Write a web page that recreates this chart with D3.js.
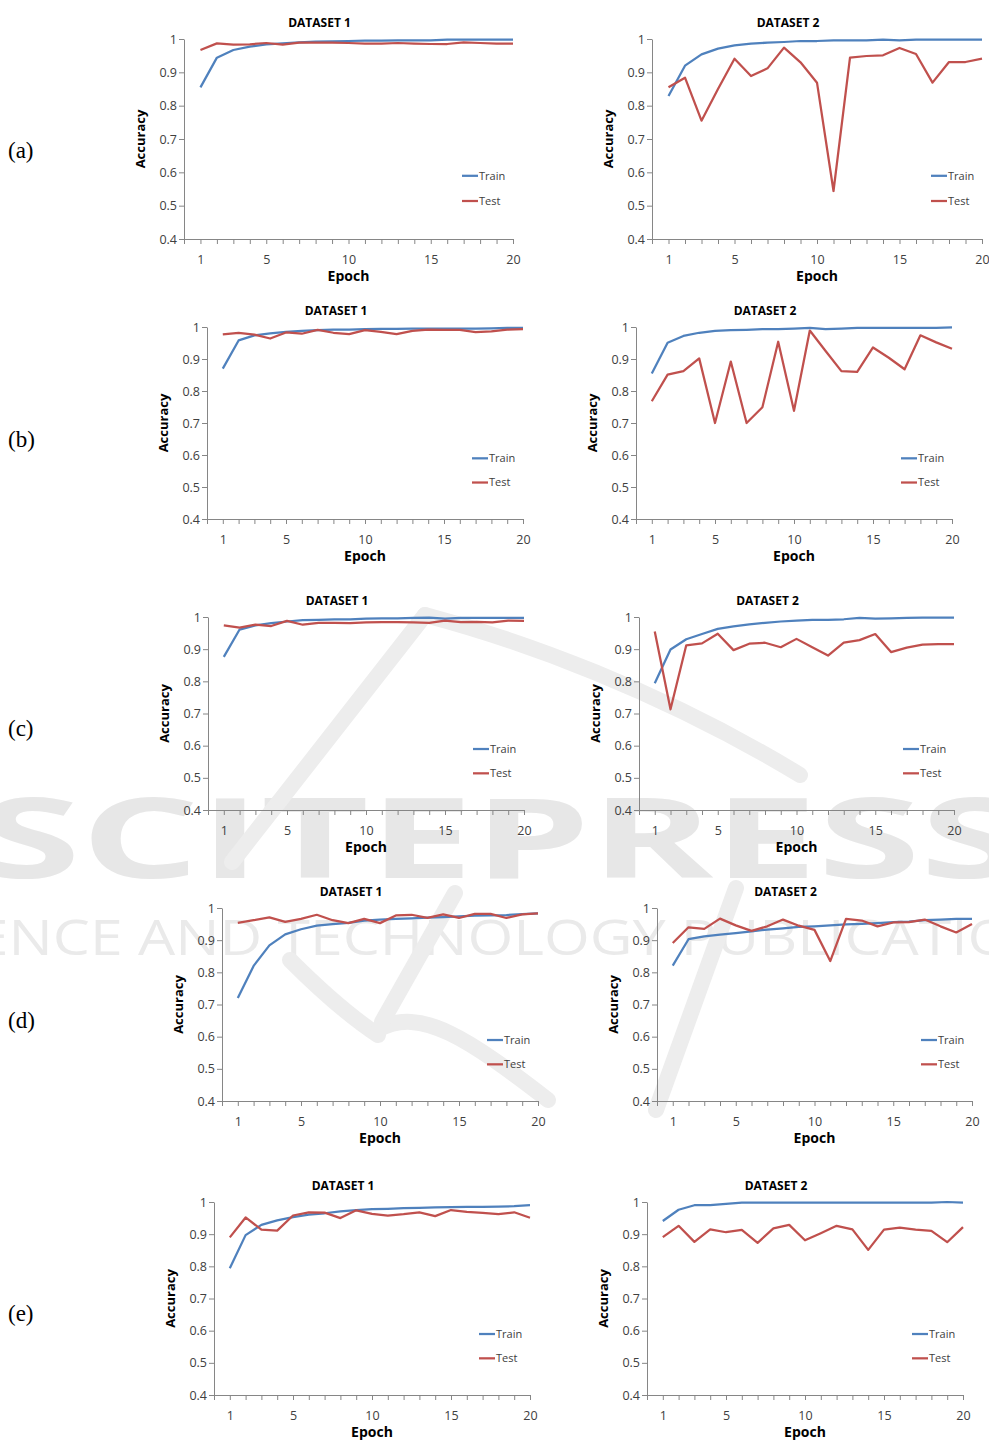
<!DOCTYPE html>
<html>
<head>
<meta charset="utf-8">
<title>Train / Test accuracy per epoch</title>
<script src="https://d3js.org/d3.v7.min.js"></script>
<style>
  body { margin: 0; background: #fff; }
  text { font-family: "Open Sans", sans-serif; }
</style>
</head>
<body>
<div id="viz"></div>
<script>

// Basic data
var epochs = d3.range(1, 21);
var yTicks = [0.4, 0.5, 0.6, 0.7, 0.8, 0.9, 1];
var xTickLabels = [1, 5, 10, 15, 20];
var rowLabels = ["(a)", "(b)", "(c)", "(d)", "(e)"];
var panelTitles = ["DATASET 1", "DATASET 2"];
var legendNames = ["Train", "Test"];

// (a)
var trainA1 = [0.855,0.944,0.967,0.977,0.984,0.987,0.990,0.992,0.993,0.994,0.995,0.995,0.996,0.996,0.996,0.998,0.998,0.998,0.998,0.998];
var testA1  = [0.967,0.987,0.983,0.984,0.988,0.983,0.989,0.989,0.989,0.988,0.986,0.986,0.988,0.986,0.985,0.985,0.990,0.988,0.986,0.986];
var trainA2 = [0.829,0.920,0.954,0.971,0.981,0.986,0.989,0.991,0.994,0.994,0.996,0.996,0.996,0.998,0.996,0.998,0.998,0.998,0.998,0.998];
var testA2  = [0.855,0.884,0.755,0.850,0.941,0.889,0.912,0.974,0.930,0.869,0.544,0.944,0.949,0.951,0.973,0.955,0.869,0.931,0.931,0.941];
// (b)
var trainB1 = [0.870,0.958,0.974,0.980,0.985,0.988,0.990,0.992,0.992,0.993,0.994,0.994,0.995,0.995,0.995,0.995,0.995,0.996,0.997,0.997];
var testB1  = [0.977,0.982,0.976,0.964,0.983,0.979,0.991,0.982,0.978,0.990,0.985,0.978,0.988,0.992,0.991,0.991,0.984,0.986,0.992,0.993];
var trainB2 = [0.855,0.951,0.972,0.982,0.988,0.990,0.991,0.993,0.993,0.995,0.997,0.993,0.995,0.997,0.997,0.997,0.997,0.997,0.997,0.999];
var testB2  = [0.768,0.851,0.862,0.902,0.700,0.892,0.700,0.749,0.954,0.738,0.989,0.925,0.862,0.860,0.936,0.904,0.868,0.974,0.952,0.932];
// (c)
var trainC1 = [0.876,0.961,0.974,0.981,0.986,0.990,0.991,0.993,0.993,0.995,0.996,0.996,0.997,0.998,0.995,0.997,0.997,0.997,0.997,0.997];
var testC1  = [0.974,0.967,0.976,0.972,0.988,0.976,0.982,0.982,0.981,0.983,0.984,0.984,0.983,0.982,0.989,0.984,0.985,0.983,0.989,0.988];
var trainC2 = [0.794,0.899,0.931,0.947,0.963,0.971,0.977,0.982,0.986,0.989,0.991,0.991,0.993,0.997,0.995,0.996,0.997,0.998,0.998,0.998];
var testC2  = [0.955,0.713,0.912,0.918,0.948,0.897,0.917,0.920,0.906,0.932,0.906,0.880,0.920,0.928,0.947,0.891,0.905,0.914,0.916,0.916];
// (d)
var trainD1 = [0.720,0.820,0.884,0.918,0.934,0.945,0.950,0.954,0.961,0.964,0.966,0.968,0.970,0.972,0.974,0.976,0.977,0.978,0.981,0.983];
var testD1  = [0.954,0.962,0.971,0.957,0.966,0.979,0.962,0.953,0.966,0.953,0.977,0.979,0.969,0.980,0.969,0.982,0.982,0.969,0.980,0.983];
var trainD2 = [0.821,0.903,0.912,0.917,0.922,0.927,0.933,0.937,0.941,0.943,0.946,0.949,0.951,0.953,0.956,0.958,0.962,0.964,0.966,0.966];
var testD2  = [0.891,0.940,0.935,0.967,0.946,0.929,0.943,0.964,0.945,0.932,0.835,0.966,0.961,0.943,0.955,0.956,0.964,0.943,0.924,0.950];
// (e)
var trainE1 = [0.794,0.897,0.929,0.943,0.953,0.961,0.965,0.971,0.975,0.978,0.979,0.981,0.982,0.983,0.984,0.985,0.985,0.986,0.987,0.990];
var testE1  = [0.890,0.952,0.914,0.911,0.958,0.968,0.967,0.950,0.974,0.963,0.958,0.962,0.968,0.956,0.975,0.969,0.966,0.962,0.968,0.951];
var trainE2 = [0.941,0.976,0.990,0.990,0.994,0.998,0.998,0.998,0.998,0.998,0.998,0.998,0.998,0.998,0.998,0.998,0.998,0.998,1.000,0.998];
var testE2  = [0.891,0.926,0.876,0.915,0.906,0.913,0.873,0.918,0.929,0.881,0.903,0.926,0.915,0.851,0.914,0.920,0.914,0.910,0.875,0.922];

var series = [
  [trainA1, testA1, trainA2, testA2],
  [trainB1, testB1, trainB2, testB2],
  [trainC1, testC1, trainC2, testC2],
  [trainD1, testD1, trainD2, testD2],
  [trainE1, testE1, trainE2, testE2]
];

// Layout of each plot area: left axis x, x of epoch 20, top, bottom
var layout = [
  [{x0:184, x1:513, top:39,   bot:239},  {x0:652, x1:982, top:39,   bot:239}],
  [{x0:207, x1:523, top:327,  bot:519},  {x0:636, x1:952, top:327,  bot:519}],
  [{x0:208, x1:524, top:617,  bot:810},  {x0:639, x1:954, top:617,  bot:810}],
  [{x0:222, x1:538, top:908,  bot:1101}, {x0:657, x1:972, top:908,  bot:1101}],
  [{x0:214, x1:530, top:1202, bot:1395}, {x0:647, x1:963, top:1202, bot:1395}]
];
var rowLabelY = [150, 439, 728, 1020, 1313];

var colors = ["#4f81bd", "#c0504d"];
var axisColor = "#868686";

var W = 989, H = 1441;
var svg = d3.select("#viz").append("svg")
    .attr("width", W)
    .attr("height", H);

// faint publisher watermark behind everything
var wm = svg.append("g").attr("fill", "#e7e7e7").attr("stroke", "none");
wm.append("text")
    .attr("x", -22).attr("y", 878)
    .attr("textLength", 1045).attr("lengthAdjust", "spacingAndGlyphs")
    .style("font-size", "112px").style("font-weight", "bold")
    .text("SCITEPRESS");
wm.append("text")
    .attr("x", -110).attr("y", 955)
    .attr("textLength", 1200).attr("lengthAdjust", "spacingAndGlyphs")
    .style("font-size", "49px").attr("fill", "#eaeaea")
    .text("SCIENCE AND TECHNOLOGY PUBLICATIONS");
var swoosh = [
  "M232,862 L425,615",
  "M425,615 C520,640 660,690 800,775",
  "M290,960 Q340,1010 378,1035",
  "M378,1030 C420,1005 470,1040 548,1100",
  "M736,888 L656,1110",
  "M455,893 L382,1022"
];
wm.selectAll("path.sw").data(swoosh).enter().append("path")
    .attr("class", "sw")
    .attr("d", function(d){ return d; })
    .attr("fill", "none")
    .attr("stroke", "#ededed")
    .attr("stroke-width", 16)
    .attr("stroke-linecap", "round");

// row labels
svg.selectAll("text.row").data(rowLabels).enter().append("text")
    .attr("class", "row")
    .attr("x", 8)
    .attr("y", function(d, i){ return rowLabelY[i]; })
    .attr("dy", "0.35em")
    .style("font-family", "'Liberation Serif', serif")
    .style("font-size", "23px")
    .attr("fill", "#000")
    .text(function(d){ return d; });

function drawPanel(L, title, train, test) {
  var x = d3.scaleLinear().domain([0, 20]).range([L.x0, L.x1]);
  var y = d3.scaleLinear().domain([0.4, 1]).range([L.bot, L.top]);
  var g = svg.append("g");

  // X axis
  var xa = g.append("g")
      .attr("transform", "translate(0," + L.bot + ")")
      .call(d3.axisBottom(x)
        .tickValues(d3.range(0, 21))
        .tickSize(5).tickSizeOuter(0)
        .tickFormat(function(d){ return xTickLabels.indexOf(d) >= 0 ? d : ""; }));
  xa.selectAll("text").attr("y", 21).attr("dy", "0.35em");

  // Y axis
  var ya = g.append("g")
      .attr("transform", "translate(" + L.x0 + ",0)")
      .call(d3.axisLeft(y)
        .tickValues(yTicks)
        .tickSize(5).tickSizeOuter(0)
        .tickFormat(function(d){ return d === 1 ? "1" : d.toFixed(1); }));
  ya.selectAll("text").attr("x", -7);

  g.selectAll(".domain, .tick line").attr("stroke", axisColor);
  g.selectAll(".tick text")
      .attr("fill", "#404040")
      .style("font-family", "'Open Sans', sans-serif")
      .style("font-size", "12.5px");

  var cx = (L.x0 + L.x1) / 2;
  // title
  g.append("text")
      .attr("x", cx - 29).attr("y", L.top - 16).attr("dy", "0.35em")
      .attr("text-anchor", "middle")
      .style("font-size", "12px").style("font-weight", "bold")
      .attr("fill", "#000")
      .text(title);
  // axis titles
  g.append("text")
      .attr("x", cx).attr("y", L.bot + 38).attr("dy", "0.3em")
      .attr("text-anchor", "middle")
      .style("font-size", "14px").style("font-weight", "bold")
      .text("Epoch");
  g.append("text")
      .attr("transform", "translate(" + (L.x0 - 44) + "," + ((L.top + L.bot) / 2) + ") rotate(-90)")
      .attr("dy", "0.35em")
      .attr("text-anchor", "middle")
      .style("font-size", "13px").style("font-weight", "bold")
      .text("Accuracy");

  // lines
  var line = d3.line()
      .x(function(d, i){ return x(epochs[i]); })
      .y(function(d){ return y(d); });
  [train, test].forEach(function(s, k) {
    g.append("path")
        .datum(s)
        .attr("fill", "none")
        .attr("stroke", colors[k])
        .attr("stroke-width", 2.25)
        .attr("stroke-linejoin", "round")
        .attr("d", line);
  });

  // legend
  var h = L.bot - L.top;
  legendNames.forEach(function(name, k) {
    var ly = L.bot - h * (k === 0 ? 0.316 : 0.19);
    g.append("line")
        .attr("x1", L.x1 - 51).attr("x2", L.x1 - 35)
        .attr("y1", ly).attr("y2", ly)
        .attr("stroke", colors[k]).attr("stroke-width", 2.25);
    g.append("text")
        .attr("x", L.x1 - 34).attr("y", ly).attr("dy", "0.35em")
        .style("font-size", "11px")
        .attr("fill", "#404040")
        .text(name);
  });
}

series.forEach(function(row, r) {
  drawPanel(layout[r][0], panelTitles[0], row[0], row[1]);
  drawPanel(layout[r][1], panelTitles[1], row[2], row[3]);
});

</script>
</body>
</html>
